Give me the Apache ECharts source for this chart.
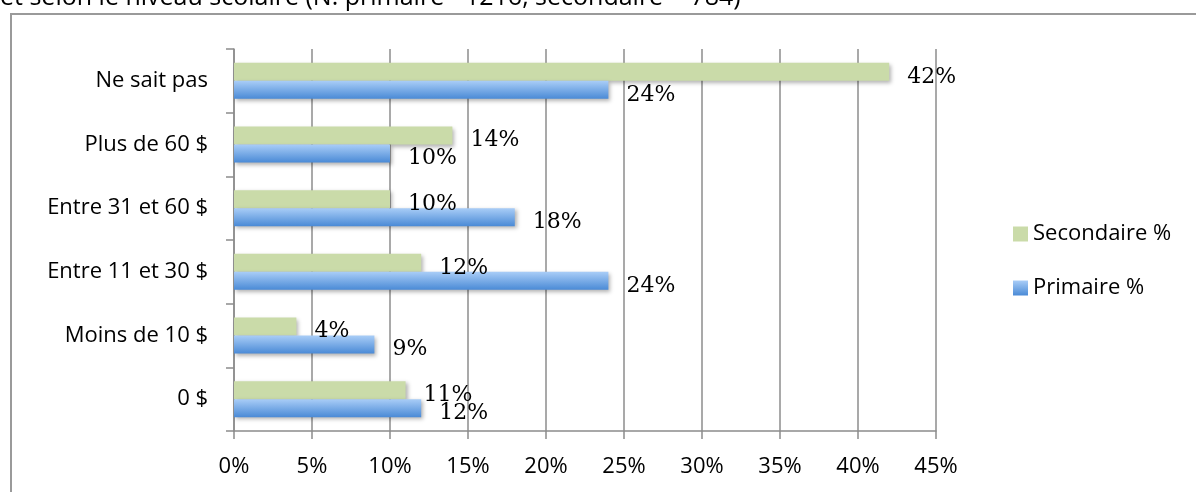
<!DOCTYPE html>
<html>
<head>
<meta charset="utf-8">
<script src="https://cdn.jsdelivr.net/npm/echarts@6/dist/echarts.min.js"></script>
<style>
  html, body { margin: 0; padding: 0; background: #fff; }
  #chart { width: 1196px; height: 492px; }
</style>
</head>
<body>
<div id="chart"></div>
<script>
const categories = ["0 $", "Moins de 10 $", "Entre 11 et 30 $", "Entre 31 et 60 $", "Plus de 60 $", "Ne sait pas"];
const secondaire = [11, 4, 12, 10, 14, 42];
const primaire = [12, 9, 24, 18, 10, 24];
const xTicks = [0, 5, 10, 15, 20, 25, 30, 35, 40, 45];

const chart = echarts.init(document.getElementById("chart"));

const labelStyle = {
  show: true,
  position: "right",
  distance: 18,
  offset: [0, 5],
  fontFamily: "DejaVu Serif",
  fontSize: 22,
  color: "#000",
  formatter: p => p.value + "%"
};

const barShadow = {
  shadowBlur: 4,
  shadowOffsetX: 2,
  shadowOffsetY: 2,
  shadowColor: "rgba(0,0,0,0.3)"
};

const option = {
  animation: false,
  graphic: [
    {
      type: "rect",
      shape: { x: 11, y: 14, width: 1200, height: 500 },
      style: { fill: "none", stroke: "#9a9a9a", lineWidth: 2 }
    },
    {
      type: "text",
      left: 0,
      top: -15,
      style: {
        text: "et selon le niveau scolaire (N: primaire= 1216, secondaire = 784)",
        font: "25px 'Open Sans'",
        fill: "#000"
      }
    }
  ],
  legend: {
    orient: "vertical",
    left: 1008,
    top: 218,
    itemGap: 32,
    itemWidth: 15,
    itemHeight: 15,
    icon: "rect",
    textStyle: { fontFamily: "Open Sans", fontSize: 22, color: "#000" },
    data: ["Secondaire %", "Primaire %"]
  },
  grid: { left: 234, right: 260, top: 49, bottom: 61 },
  xAxis: {
    type: "value",
    min: 0,
    max: 45,
    interval: 5,
    axisLine: { show: true, lineStyle: { color: "#8c8c8c", width: 1.5 } },
    axisTick: { show: true, length: 8, lineStyle: { color: "#8c8c8c", width: 1.5 } },
    splitLine: { show: true, lineStyle: { color: "#8c8c8c", width: 1.5 } },
    axisLabel: {
      margin: 25,
      fontFamily: "Open Sans",
      fontSize: 22,
      color: "#000",
      formatter: v => (xTicks.includes(v) ? v + "%" : "")
    }
  },
  yAxis: {
    type: "category",
    data: categories,
    axisLine: { show: true, lineStyle: { color: "#8c8c8c", width: 1.5 } },
    axisTick: { show: true, length: 8, lineStyle: { color: "#8c8c8c", width: 1.5 } },
    axisLabel: {
      margin: 26,
      fontFamily: "Open Sans",
      fontSize: 22,
      color: "#000"
    }
  },
  series: [
    {
      name: "Secondaire %",
      type: "bar",
      data: secondaire,
      barWidth: 18,
      barGap: "0%",
      itemStyle: Object.assign({ color: "#cadba9" }, barShadow),
      label: labelStyle
    },
    {
      name: "Primaire %",
      type: "bar",
      data: primaire,
      barWidth: 18,
      barGap: "0%",
      itemStyle: Object.assign({
        color: new echarts.graphic.LinearGradient(0, 0, 0, 1, [
          { offset: 0, color: "#a9cdf7" },
          { offset: 1, color: "#4a8ad6" }
        ])
      }, barShadow),
      label: labelStyle
    }
  ]
};

chart.setOption(option);
</script>
</body>
</html>
